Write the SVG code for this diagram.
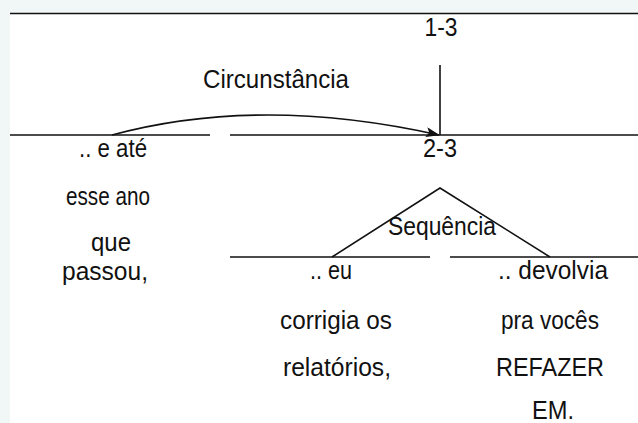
<svg xmlns="http://www.w3.org/2000/svg" width="638" height="423" viewBox="0 0 638 423">
<style>
.t{font-family:"Liberation Sans",Arial,sans-serif;font-size:26px;fill:#111;text-anchor:middle}
.l{stroke:#111;stroke-width:1.6;fill:none}
</style>
<defs>
<marker id="ah" markerWidth="14" markerHeight="10" refX="13" refY="5" orient="auto" markerUnits="userSpaceOnUse">
<path d="M0,0 L14,5 L0,10 L3,5 Z" fill="#111"/>
</marker>
</defs>
<rect x="0" y="0" width="638" height="423" fill="#f1f7f7"/>
<rect x="10" y="14" width="628" height="409" fill="#ffffff"/>
<g id="connectors">
<line class="l" x1="10" y1="13.5" x2="638" y2="13.5" stroke-width="2"/>
<line class="l" x1="440" y1="65" x2="440" y2="135"/>
<line class="l" x1="10" y1="135" x2="210" y2="135"/>
<line class="l" x1="230" y1="135" x2="638" y2="135"/>
<path class="l" d="M112,135 Q260,95 439,135" marker-end="url(#ah)"/>
<path class="l" d="M332,257 L440,188 L550,257"/>
<line class="l" x1="230" y1="257" x2="430" y2="257"/>
<line class="l" x1="450" y1="257" x2="638" y2="257"/>
</g>
<g id="n13"><text class="t" x="441" y="36" textLength="33" lengthAdjust="spacingAndGlyphs">1-3</text></g>
<g id="circ"><text class="t" x="276" y="88" textLength="146" lengthAdjust="spacingAndGlyphs">Circunstância</text></g>
<g id="n23"><text class="t" x="440" y="157" textLength="34" lengthAdjust="spacingAndGlyphs">2-3</text></g>
<g id="left">
<text class="t" x="113" y="157" textLength="68" lengthAdjust="spacingAndGlyphs">.. e até</text>
<text class="t" x="108" y="205" textLength="84" lengthAdjust="spacingAndGlyphs">esse ano</text>
<text class="t" x="111" y="251" textLength="40" lengthAdjust="spacingAndGlyphs">que</text>
<text class="t" x="105" y="280" textLength="86" lengthAdjust="spacingAndGlyphs">passou,</text>
</g>
<g id="seq"><text class="t" x="442" y="235" textLength="108" lengthAdjust="spacingAndGlyphs">Sequência</text></g>
<g id="mid">
<text class="t" x="331" y="279" textLength="42" lengthAdjust="spacingAndGlyphs">.. eu</text>
<text class="t" x="336" y="329" textLength="112" lengthAdjust="spacingAndGlyphs">corrigia os</text>
<text class="t" x="337" y="376" textLength="108" lengthAdjust="spacingAndGlyphs">relatórios,</text>
</g>
<g id="right">
<text class="t" x="553" y="279" textLength="110" lengthAdjust="spacingAndGlyphs">.. devolvia</text>
<text class="t" x="550" y="329" textLength="98" lengthAdjust="spacingAndGlyphs">pra vocês</text>
<text class="t" x="550" y="376" textLength="108" lengthAdjust="spacingAndGlyphs">REFAZER</text>
<text class="t" x="553" y="419" textLength="42" lengthAdjust="spacingAndGlyphs">EM.</text>
</g>
</svg>
